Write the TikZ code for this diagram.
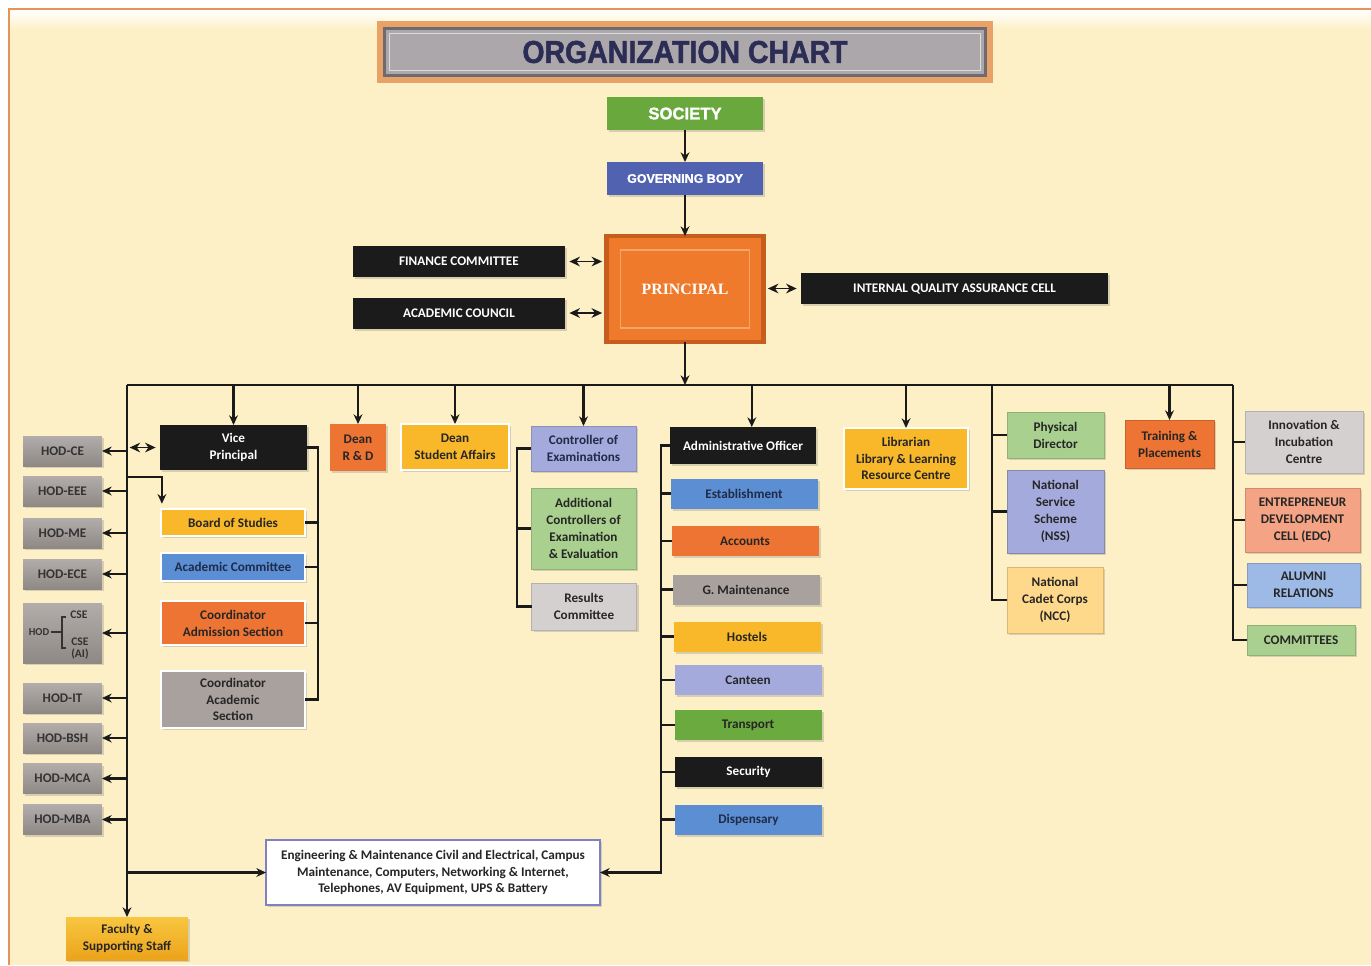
\documentclass[tikz,border=0pt]{standalone}
\usepackage{fontspec}
\setmainfont{Carlito}
\newfontfamily\headfont{Liberation Sans}[BoldFeatures={FakeBold=1.6}]
\newfontfamily\princfont{Liberation Serif}
\usepackage{xcolor}
\usetikzlibrary{shapes, arrows.meta, positioning, calc, shadows}

\definecolor{cream}{HTML}{FDF0C6}
\definecolor{framecol}{HTML}{E8925A}
\definecolor{titlegray}{HTML}{ABA7AA}
\definecolor{titleedge}{HTML}{6E6A6D}
\definecolor{glow}{HTML}{E8A268}
\definecolor{navy}{HTML}{2B2D55}
\definecolor{navytxt}{HTML}{1F2B48}
\definecolor{socgreen}{HTML}{68A83D}
\definecolor{govblue}{HTML}{5062B0}
\definecolor{porange}{HTML}{F07A2C}
\definecolor{pedge}{HTML}{C65C1E}
\definecolor{pline}{HTML}{F5A46A}
\definecolor{blackbox}{HTML}{1B1B1B}
\definecolor{hodtop}{HTML}{B2ACAA}
\definecolor{hodbot}{HTML}{8F8986}
\definecolor{fstop}{HTML}{F9C640}
\definecolor{fsbot}{HTML}{EBA31B}
\definecolor{yel}{HTML}{F8B829}
\definecolor{blu}{HTML}{5B8ED3}
\definecolor{org}{HTML}{EE7433}
\definecolor{gry}{HTML}{A9A19E}
\definecolor{lav}{HTML}{A4ABDC}
\definecolor{lgreen}{HTML}{A9D08E}
\definecolor{dgreen}{HTML}{6BAA3F}
\definecolor{lgray}{HTML}{D4D0CF}
\definecolor{lyel}{HTML}{FFD98B}
\definecolor{salmon}{HTML}{F4A385}
\definecolor{lblue}{HTML}{9DB9E5}
\definecolor{engedge}{HTML}{8080C4}
\definecolor{txt}{HTML}{262626}
\definecolor{lin}{HTML}{1A1A1A}

\begin{document}
\begin{tikzpicture}[x=0.02cm, y=-0.02cm, >={Stealth[length=5.5pt, width=5pt]},
    every node/.style={align=center, inner sep=0pt, outer sep=0pt, text=txt, font=\bfseries\fontsize{7.5}{9.6}\selectfont},
    box/.style={rectangle, drop shadow={shadow xshift=1.2pt, shadow yshift=-1.2pt, opacity=0.3}},
    wbox/.style={box, draw=white, line width=1.2pt},
    blkbox/.style={box, fill=blackbox, text=white},
    hodbox/.style={box, top color=hodtop, bottom color=hodbot, text=black!80, minimum width=1.58cm, minimum height=0.6cm},
    adminsub/.style={box, minimum width=2.94cm, minimum height=0.6cm},
    conn/.style={line width=1.4pt, draw=lin},
    dbl/.style={{Stealth[length=6pt, width=5.5pt]}-{Stealth[length=6pt, width=5.5pt]}, line width=1.1pt, draw=lin, shorten <=2.5pt, shorten >=2.5pt}
  ]
  \useasboundingbox (0,0) rectangle (1371,965);
  \fill[cream] (9,9) rectangle (1371,965);
  \shade[top color=white, bottom color=cream] (10,10) rectangle (1371,30);
  \draw[framecol, line width=1.3pt] (9,965) -- (9,9) -- (1371,9);

  \node[box, fill=titlegray, draw=glow, line width=3pt, minimum width=12.2cm, minimum height=1.12cm, text=navy, font=\headfont\bfseries\fontsize{18}{18}\selectfont] at (685,52) (T) {\scalebox{0.9}[1]{ORGANIZATION CHART}};
  \draw[titleedge, line width=1.8pt] ([shift={(2.5pt,-2.5pt)}]T.north west) rectangle ([shift={(-2.5pt,2.5pt)}]T.south east);
  \draw[white!60!titlegray, line width=0.8pt] ([shift={(5.5pt,-5.5pt)}]T.north west) rectangle ([shift={(-5.5pt,5.5pt)}]T.south east);

  \node[box, fill=socgreen, text=white, minimum width=3.12cm, minimum height=0.66cm, font=\headfont\bfseries\fontsize{9.5}{10}\selectfont] at (685,113.5) (SOC) {SOCIETY};
  \node[box, fill=govblue, text=white, minimum width=3.12cm, minimum height=0.66cm, font=\headfont\bfseries\fontsize{7.1}{8}\selectfont] at (685,178.5) (GB) {GOVERNING BODY};
  \node[box, fill=porange, draw=pedge, line width=2.5pt, minimum width=3.14cm, minimum height=2.12cm, text=white, font=\princfont\bfseries\fontsize{9}{10}\selectfont] at (685,289) (P) {PRINCIPAL};
  \draw[pline, line width=0.8pt] ([shift={(8pt,-8pt)}]P.north west) rectangle ([shift={(-8pt,8pt)}]P.south east);
  \node[blkbox, minimum width=4.24cm, minimum height=0.62cm] at (459,261.5) (FC) {FINANCE COMMITTEE};
  \node[blkbox, minimum width=4.24cm, minimum height=0.62cm] at (459,313) (AC) {ACADEMIC COUNCIL};
  \node[blkbox, minimum width=6.14cm, minimum height=0.62cm] at (954.5,288.5) (IQ) {INTERNAL QUALITY ASSURANCE CELL};

  \node[hodbox] at (62.5,451) (CE) {HOD-CE};
  \node[hodbox] at (62.5,491) (EEE) {HOD-EEE};
  \node[hodbox] at (62.5,533) (ME) {HOD-ME};
  \node[hodbox] at (62.5,574) (ECE) {HOD-ECE};
  \node[hodbox, minimum height=1.2cm] at (62.5,633) (CSE) {};
  \node[text=black!80, font=\bfseries\fontsize{6}{7}\selectfont] at (39,632) (HODT) {HOD};
  \node[text=black!80, font=\bfseries\fontsize{6.6}{7}\selectfont] at (79,614.5) (CSEA) {CSE};
  \node[text=black!80, font=\bfseries\fontsize{6.6}{6.8}\selectfont] at (80,649) (CSEB) {CSE\\(AI)};
  \coordinate (BRK) at (62,632);
  \coordinate (BRT) at (66,617);
  \coordinate (BRB) at (66,648);
  \draw[black!80, line width=0.9pt] ([xshift=1pt]HODT.east) -- (BRK);
  \draw[black!80, line width=0.9pt] (BRT) -| (BRK) |- (BRB);
  \node[hodbox] at (62.5,698) (IT) {HOD-IT};
  \node[hodbox] at (62.5,738) (BSH) {HOD-BSH};
  \node[hodbox] at (62.5,778.5) (MCA) {HOD-MCA};
  \node[hodbox] at (62.5,819.5) (MBA) {HOD-MBA};
  \node[box, top color=fstop, bottom color=fsbot, minimum width=2.44cm, minimum height=0.86cm] at (127,938.5) (FS) {Faculty \&\\Supporting Staff};

  \node[blkbox, minimum width=2.94cm, minimum height=0.9cm] at (233.5,447.5) (VP) {Vice\\Principal};
  \node[wbox, fill=yel, minimum width=2.88cm, minimum height=0.54cm] at (233,522.5) (BS) {Board of Studies};
  \node[wbox, fill=blu, text=navytxt, minimum width=2.88cm, minimum height=0.56cm] at (233,567) (ACM) {Academic Committee};
  \node[wbox, fill=org, minimum width=2.88cm, minimum height=0.88cm] at (233,623) (CAS) {Coordinator\\Admission Section};
  \node[wbox, fill=gry, minimum width=2.88cm, minimum height=1.14cm] at (233,699.5) (CAC) {Coordinator\\Academic\\Section};

  \node[box, fill=org, minimum width=1.12cm, minimum height=0.94cm] at (358,447.5) (DRD) {Dean\\R \& D};
  \node[wbox, fill=yel, minimum width=2.16cm, minimum height=0.92cm] at (455,447) (DSA) {Dean\\Student Affairs};

  \node[box, fill=lav, draw=lav!85!black, line width=0.4pt, text=navytxt, minimum width=2.1cm, minimum height=0.9cm] at (583.5,448.5) (COE) {Controller of\\Examinations};
  \node[box, fill=lgreen, draw=lgreen!85!black, line width=0.4pt, minimum width=2.1cm, minimum height=1.62cm] at (583.5,528.5) (ACE) {Additional\\Controllers of\\Examination\\\& Evaluation};
  \node[box, fill=lgray, draw=lgray!85!black, line width=0.4pt, minimum width=2.1cm, minimum height=0.94cm] at (584,606.5) (RC) {Results\\Committee};

  \node[blkbox, minimum width=2.92cm, minimum height=0.74cm] at (743,445.5) (AO) {Administrative Officer};
  \node[adminsub, fill=blu, text=navytxt] at (744,493.5) (EST) {Establishment};
  \node[adminsub, fill=org] at (745,541) (ACC) {Accounts};
  \node[adminsub, fill=gry] at (746,589.5) (GM) {G. Maintenance};
  \node[adminsub, fill=yel] at (747,636.5) (HOS) {Hostels};
  \node[adminsub, fill=lav] at (748,680) (CAN) {Canteen};
  \node[adminsub, fill=dgreen] at (748,725) (TRA) {Transport};
  \node[adminsub, fill=blackbox, text=white] at (748.5,772) (SEC) {Security};
  \node[adminsub, fill=blu, text=navytxt] at (748.5,819.5) (DIS) {Dispensary};
  \node[box, fill=white, draw=engedge, line width=0.9pt, minimum width=6.68cm, minimum height=1.3cm] at (433,872.5) (EM) {Engineering \& Maintenance Civil and Electrical, Campus\\Maintenance, Computers, Networking \& Internet,\\Telephones, AV Equipment, UPS \& Battery};

  \node[wbox, fill=yel, minimum width=2.48cm, minimum height=1.22cm] at (906,458.5) (LIB) {Librarian\\Library \& Learning\\Resource Centre};
  \node[box, fill=lgreen, draw=lgreen!85!black, line width=0.4pt, minimum width=1.94cm, minimum height=0.92cm] at (1055.5,435) (PD) {Physical\\Director};
  \node[box, fill=lav, draw=lav!80!black, line width=0.4pt, minimum width=1.94cm, minimum height=1.66cm] at (1055.5,511.5) (NSS) {National\\Service\\Scheme\\(NSS)};
  \node[box, fill=lyel, draw=lyel!85!black, line width=0.4pt, minimum width=1.92cm, minimum height=1.32cm] at (1055,600) (NCC) {National\\Cadet Corps\\(NCC)};
  \node[box, fill=org, draw=org!85!black, line width=0.4pt, minimum width=1.78cm, minimum height=0.96cm] at (1169.5,444) (TP) {Training \&\\Placements};
  \node[box, fill=lgray, draw=lgray!85!black, line width=0.4pt, minimum width=2.36cm, minimum height=1.24cm] at (1304,442) (IIC) {Innovation \&\\Incubation\\Centre};
  \node[box, fill=salmon, draw=salmon!85!black, line width=0.4pt, minimum width=2.3cm, minimum height=1.28cm] at (1302.5,520) (EDC) {ENTREPRENEUR\\DEVELOPMENT\\CELL (EDC)};
  \node[box, fill=lblue, draw=lblue!85!black, line width=0.4pt, minimum width=2.26cm, minimum height=0.88cm] at (1303.5,585) (AR) {ALUMNI\\RELATIONS};
  \node[box, fill=lgreen, draw=lgreen!85!black, line width=0.4pt, minimum width=2.16cm, minimum height=0.6cm] at (1301,640) (COM) {COMMITTEES};

  \draw[conn, ->, line width=1.1pt] (SOC) -- (GB);
  \draw[conn, ->, line width=1.1pt] (GB) -- (P);
  \draw[dbl] (FC.east) -- (FC.east -| P.west);
  \draw[dbl] (AC.east) -- (AC.east -| P.west);
  \draw[dbl] (P.east |- IQ.west) -- (IQ.west);

  \coordinate (BUS) at (685,385);
  \coordinate (BL) at (127,385);
  \coordinate (BR) at (1233,385);
  \coordinate (BN) at (992,385);
  \draw[conn, ->] (P) -- (BUS);
  \draw[conn] (BL) -- (BR);
  \foreach \n in {VP, DRD, DSA, COE, LIB, TP}
    \draw[conn, ->] (\n |- BUS) -- (\n);
  \draw[conn, ->] ([xshift=5pt]AO.north |- BUS) -- ([xshift=5pt]AO.north);

  \draw[conn, ->] (BL) -- (FS);
  \foreach \n in {CE, EEE, ME, ECE, CSE, IT, BSH, MCA, MBA}
    \draw[conn, ->] (BL |- \n.east) -- (\n.east);
  \draw[dbl, shorten <=1.5pt] (BL |- VP.west) -- (VP.west);
  \coordinate (BSJ) at (127,477);
  \draw[conn, ->] (BSJ) -| ([xshift=0.5pt, yshift=3pt]BS.north west);
  \draw[conn, ->] (BL |- EM.west) -- (EM.west);

  \coordinate (VR) at (318,447);
  \draw[conn] (VP.east) -- (VR |- VP.east) -- (VR |- CAC.east) -- (CAC.east);
  \foreach \n in {BS, ACM, CAS}
    \draw[conn] (\n.east) -- (VR |- \n.east);

  \coordinate (ER) at (517,448);
  \draw[conn] (COE.west) -- (ER |- COE.west) -- (ER |- RC.west) -- (RC.west);
  \draw[conn] (ACE.west) -- (ER |- ACE.west);

  \coordinate (AL) at (661,445);
  \draw[conn, ->] (AO.west) -- (AL |- AO.west) -- (AL |- EM.east) -- (EM.east);
  \foreach \n in {EST, ACC, GM, HOS, CAN, TRA, SEC, DIS}
    \draw[conn] (\n.west) -- (AL |- \n.west);

  \draw[conn] (BN) -- (BN |- NCC.west) -- (NCC.west);
  \foreach \n in {PD, NSS}
    \draw[conn] (\n.west) -- (BN |- \n.west);
  \draw[conn] (BR) -- (BR |- COM.west) -- (COM.west);
  \foreach \n in {IIC, EDC, AR}
    \draw[conn] (\n.west) -- (BR |- \n.west);
\end{tikzpicture}
\end{document}
